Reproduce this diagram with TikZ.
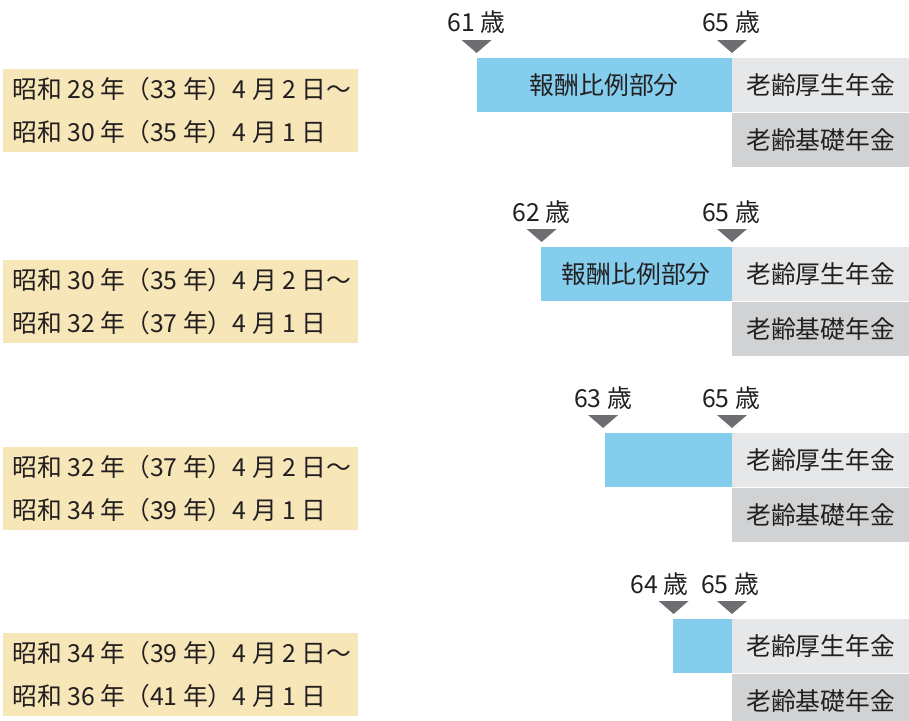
\documentclass[tikz,border=0pt]{standalone}
\usepackage{fontspec}
\setmainfont{Noto Sans CJK JP}
\usetikzlibrary{positioning}
\definecolor{inkgray}{HTML}{231F20}
\definecolor{markgray}{HTML}{6D6E71}
\definecolor{hoshublue}{HTML}{84CDEC}
\definecolor{koseigray}{HTML}{E6E7E8}
\definecolor{kisogray}{HTML}{D1D2D4}
\definecolor{genyellow}{HTML}{F7E6B8}

\begin{document}
\begin{tikzpicture}[x = 1pt, y = -1pt,
    every node/.style = {inner sep = 0pt, text = inkgray, font = \fontsize{24.8}{29}\selectfont},
    box/.style = {minimum height = 54.5pt, anchor = north west},
    kosei/.style = {box, fill = koseigray, minimum width = 177pt},
    kiso/.style = {box, fill = kisogray, minimum width = 177pt},
    hoshu/.style = {box, fill = hoshublue},
    gen/.style = {fill = genyellow, minimum width = 355pt, minimum height = 83pt, anchor = north west},
    genline/.style = {anchor = west},
    marker/.style = {fill = markgray},
    age/.style = {}]
      \useasboundingbox (0,0) rectangle (909,720);

      % 1: 61 - 65
      \node[gen] (gen1) at (3,69) {};
      \node[genline] (gen1a) at ([xshift = 9pt, yshift = 22pt]gen1.west) {昭和 28 年（33 年）4 月 2 日〜};
      \node[genline] (gen1b) at ([xshift = 9pt, yshift = -21pt]gen1.west) {昭和 30 年（35 年）4 月 1 日};
      \node[kosei] (kosei1) at (732,57.5) {老齢厚生年金};
      \node[kiso, below = 0pt of kosei1] (kiso1) {老齢基礎年金};
      \node[hoshu, anchor = east, minimum width = 255pt, left = 0pt of kosei1] (hoshu1) {報酬比例部分};
      \fill[marker] ([yshift = 4.5pt]hoshu1.north west) coordinate (m1s) -- ++(-15,-13) -- ++(30,0) -- cycle;
      \fill[marker] ([yshift = 4.5pt]kosei1.north west) coordinate (m1e) -- ++(-15,-13) -- ++(30,0) -- cycle;
      \node[age] (age1s) at ([yshift = 31pt]m1s) {61 歳};
      \node[age] (age1e) at ([xshift = -1pt, yshift = 31pt]m1e) {65 歳};

      % 2: 62 - 65
      \node[gen] (gen2) at (3,260) {};
      \node[genline] (gen2a) at ([xshift = 9pt, yshift = 22pt]gen2.west) {昭和 30 年（35 年）4 月 2 日〜};
      \node[genline] (gen2b) at ([xshift = 9pt, yshift = -21pt]gen2.west) {昭和 32 年（37 年）4 月 1 日};
      \node[kosei] (kosei2) at (732,246.5) {老齢厚生年金};
      \node[kiso, below = 0pt of kosei2] (kiso2) {老齢基礎年金};
      \node[hoshu, anchor = east, minimum width = 191pt, left = 0pt of kosei2] (hoshu2) {報酬比例部分};
      \fill[marker] ([xshift = 1pt, yshift = 4.5pt]hoshu2.north west) coordinate (m2s) -- ++(-15,-13) -- ++(30,0) -- cycle;
      \fill[marker] ([yshift = 4.5pt]kosei2.north west) coordinate (m2e) -- ++(-15,-13) -- ++(30,0) -- cycle;
      \node[age] (age2s) at ([yshift = 30pt]m2s) {62 歳};
      \node[age] (age2e) at ([xshift = -1pt, yshift = 30pt]m2e) {65 歳};

      % 3: 63 - 65
      \node[gen] (gen3) at (3,447) {};
      \node[genline] (gen3a) at ([xshift = 9pt, yshift = 22pt]gen3.west) {昭和 32 年（37 年）4 月 2 日〜};
      \node[genline] (gen3b) at ([xshift = 9pt, yshift = -21pt]gen3.west) {昭和 34 年（39 年）4 月 1 日};
      \node[kosei] (kosei3) at (732,432.5) {老齢厚生年金};
      \node[kiso, below = 0pt of kosei3] (kiso3) {老齢基礎年金};
      \node[hoshu, anchor = east, minimum width = 127pt, left = 0pt of kosei3] (hoshu3) {};
      \fill[marker] ([xshift = -1.5pt, yshift = 4.5pt]hoshu3.north west) coordinate (m3s) -- ++(-15,-13) -- ++(30,0) -- cycle;
      \fill[marker] ([yshift = 4.5pt]kosei3.north west) coordinate (m3e) -- ++(-15,-13) -- ++(30,0) -- cycle;
      \node[age] (age3s) at ([yshift = 30pt]m3s) {63 歳};
      \node[age] (age3e) at ([xshift = -1pt, yshift = 30pt]m3e) {65 歳};

      % 4: 64 - 65
      \node[gen] (gen4) at (3,633) {};
      \node[genline] (gen4a) at ([xshift = 9pt, yshift = 22pt]gen4.west) {昭和 34 年（39 年）4 月 2 日〜};
      \node[genline] (gen4b) at ([xshift = 9pt, yshift = -21pt]gen4.west) {昭和 36 年（41 年）4 月 1 日};
      \node[kosei] (kosei4) at (732,618.5) {老齢厚生年金};
      \node[kiso, below = 0pt of kosei4] (kiso4) {老齢基礎年金};
      \node[hoshu, anchor = east, minimum width = 59pt, left = 0pt of kosei4] (hoshu4) {};
      \fill[marker] ([xshift = 1pt, yshift = 4.5pt]hoshu4.north west) coordinate (m4s) -- ++(-15,-13) -- ++(30,0) -- cycle;
      \fill[marker] ([yshift = 4.5pt]kosei4.north west) coordinate (m4e) -- ++(-15,-13) -- ++(30,0) -- cycle;
      \node[age] (age4s) at ([xshift = -14pt, yshift = 30pt]m4s) {64 歳};
      \node[age] (age4e) at ([xshift = -2pt, yshift = 30pt]m4e) {65 歳};
    \end{tikzpicture}
\end{document}
